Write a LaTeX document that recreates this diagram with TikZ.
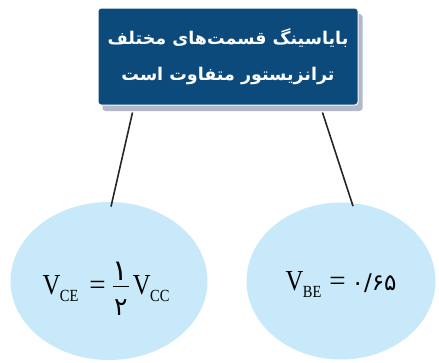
\documentclass[tikz,border=0pt]{standalone}
\usepackage{fontspec}
\usepackage{graphicx}
\usetikzlibrary{shapes.geometric,shadows}
\setmainfont{Liberation Serif}
\newfontfamily\farsifont[Script=Arabic]{DejaVu Sans}
\TeXXeTstate=1

\definecolor{titleblue}{RGB}{12,74,124}
\definecolor{shadowgray}{RGB}{178,184,202}
\definecolor{bubbleblue}{RGB}{200,233,249}

% V con pedice
\newcommand{\Vsub}[1]{\scalebox{0.85}[1]{V\kern-0.5pt\raisebox{-7pt}{\fontsize{17}{17}\selectfont #1}}}
% frazione con cifre persiane
\newcommand{\fafrac}[2]{%
  \makebox[16pt]{\rule[7.5pt]{16pt}{0.9pt}}%
  \llap{\makebox[16pt]{\smash{\raisebox{14pt}{\farsifont\fontsize{29}{29}\selectfont #1}}}}%
  \llap{\makebox[16pt]{\smash{\raisebox{-21pt}{\farsifont\fontsize{25}{25}\selectfont #2}}}}}

\begin{document}
\begin{tikzpicture}[x=1pt, y=-1pt, thick]

        \useasboundingbox (0,0) rectangle (439,362);

        % ==========================================
        % 1. Titolo
        % ==========================================
        \node[fill=titleblue, draw=white, line width=1pt, rounded corners=3pt,
              minimum width=260pt, minimum height=97pt, text=white,
              align=center, font=\farsifont\bfseries\fontsize{17.5}{36}\selectfont,
              drop shadow={shadow xshift=4.5pt, shadow yshift=-6pt,
                           fill=shadowgray, opacity=1}]
            (title) at (228,56.5)
            {\beginR بایاسینگ قسمت‌های مختلف\endR\\
             \beginR ترانزیستور متفاوت است\endR};

        % ==========================================
        % 2. Ellissi
        % ==========================================
        \node[ellipse, fill=bubbleblue, minimum width=197pt, minimum height=158pt,
              text height=26pt, text depth=0pt, font=\fontsize{29}{29}\selectfont]
            (vce) at (109,281)
            {\hspace{-6pt}\Vsub{CE}\hspace{11pt}=\hspace{7pt}\fafrac{۱}{۲}\hspace{4pt}\Vsub{CC}};

        \node[ellipse, fill=bubbleblue, minimum width=189pt, minimum height=157pt,
              text height=18pt, text depth=0pt, font=\fontsize{29}{29}\selectfont]
            (vbe) at (341,281)
            {\Vsub{BE}\hspace{8pt}=\hspace{6pt}{\farsifont\fontsize{23}{23}\selectfont ۰/۶۵}};

        % ==========================================
        % 3. Collegamenti
        % ==========================================
        \draw[line width=1.6pt, black!85] ([xshift=35pt, yshift=-7pt]title.south west)
            -- ([xshift=2pt, yshift=-5pt]vce.north);
        \draw[line width=1.6pt, black!85] ([xshift=-36pt, yshift=-7pt]title.south east)
            -- ([xshift=12pt, yshift=-4pt]vbe.north);

    \end{tikzpicture}
\end{document}
